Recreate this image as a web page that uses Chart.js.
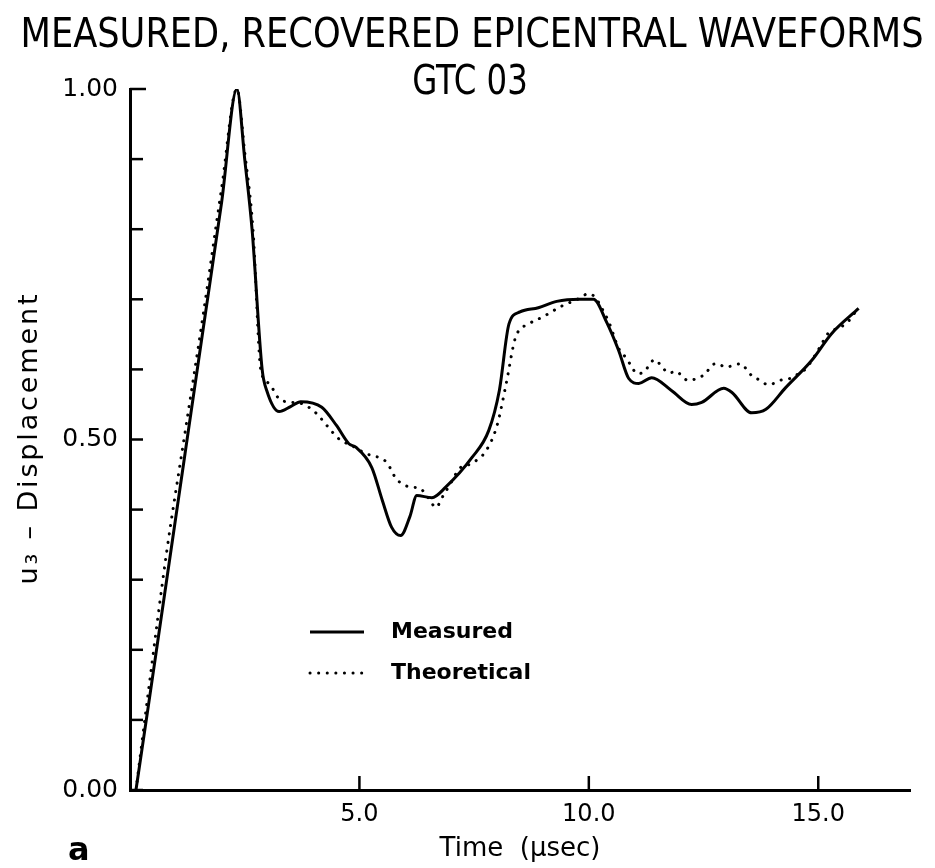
<!DOCTYPE html>
<html><head><meta charset="utf-8">
<script src="https://cdn.jsdelivr.net/npm/chart.js@4.4.1/dist/chart.umd.min.js"></script>
<style>html,body{margin:0;padding:0;background:#fff;} #wrap{width:935px;height:868px;}</style>
</head><body><div id="wrap"><canvas id="c" width="935" height="868"></canvas></div>
<script>
const titleText = 'MEASURED, RECOVERED EPICENTRAL WAVEFORMS';
const subtitleText = 'GTC 03';
const panelLetter = 'a';
const xAxisTitle = 'Time  (\u03BCsec)';
const yAxisTitle = 'u\u2083 \u2013 Displacement';
const seriesNames = ['Measured', 'Theoretical'];
const xTickValues = [5, 10, 15];
const yLabelValues = [0, 0.5, 1];
const yTickValues = [0, 0.1, 0.2, 0.3, 0.4, 0.5, 0.6, 0.7, 0.8, 0.9, 1.0];

const measuredTime = [0.13,0.4,0.8,1.2,1.6,2.0,2.33,2.5,2.66,2.88,2.98,3.25,3.5,3.72,4.18,4.5,4.77,4.92,5.27,5.5,5.7,5.9,6.1,6.25,6.58,6.88,7.45,7.82,8.05,8.26,8.5,8.9,9.3,9.8,10.1,10.39,10.65,10.87,11.09,11.37,11.8,12.24,12.46,12.94,13.12,13.55,13.86,14.29,14.86,15.29,15.88];
const measuredU = [0,0.12,0.30,0.48,0.66,0.84,1.0,0.90,0.80,0.60,0.57,0.54,0.547,0.554,0.546,0.52,0.494,0.489,0.46,0.413,0.375,0.363,0.39,0.42,0.417,0.432,0.474,0.513,0.57,0.665,0.682,0.688,0.697,0.70,0.70,0.667,0.627,0.587,0.58,0.588,0.57,0.55,0.553,0.573,0.567,0.538,0.543,0.574,0.613,0.651,0.687];

const theoreticalTime = [0.13,0.4,0.8,1.2,1.6,2.0,2.33,2.5,2.68,2.85,3.03,3.25,3.53,3.75,4.05,4.29,4.55,4.84,5.14,5.47,5.6,5.8,5.93,6.12,6.3,6.51,6.67,6.8,7.02,7.17,7.45,7.76,8.0,8.2,8.4,8.7,9.0,9.4,9.75,10.0,10.15,10.26,10.44,10.65,10.83,10.94,11.05,11.22,11.33,11.44,11.59,11.74,11.92,12.05,12.2,12.37,12.55,12.66,12.81,12.98,13.12,13.31,13.44,13.55,13.75,13.9,14.03,14.2,14.38,14.55,14.73,15.03,15.21,15.51,15.69,15.86];
const theoreticalU = [0,0.14,0.34,0.51,0.68,0.86,1.0,0.91,0.80,0.60,0.58,0.558,0.553,0.551,0.538,0.52,0.501,0.491,0.48,0.473,0.467,0.444,0.437,0.432,0.431,0.416,0.403,0.417,0.441,0.458,0.466,0.484,0.52,0.58,0.645,0.665,0.675,0.69,0.70,0.708,0.702,0.69,0.667,0.63,0.615,0.603,0.594,0.597,0.608,0.614,0.604,0.595,0.597,0.588,0.584,0.588,0.594,0.605,0.608,0.603,0.605,0.608,0.6,0.591,0.584,0.578,0.58,0.585,0.587,0.593,0.601,0.631,0.651,0.661,0.671,0.687];

const FONT = '"DejaVu Sans", "Liberation Sans", sans-serif';
const NARROW = '"Liberation Sans Narrow", "DejaVu Sans Condensed", "DejaVu Sans", sans-serif';

const decor = {
  id: 'decor',
  afterDraw(chart) {
    const ctx = chart.ctx, xs = chart.scales.x, ys = chart.scales.y;
    ctx.save();
    ctx.strokeStyle = '#000'; ctx.fillStyle = '#000';
    ctx.lineWidth = 2.5; ctx.lineCap = 'butt';
    // inward tick marks
    yTickValues.forEach(v => {
      const py = ys.getPixelForValue(v);
      ctx.beginPath(); ctx.moveTo(xs.left, py); ctx.lineTo(xs.left + (v === 1 ? 16 : 13), py); ctx.stroke();
    });
    xTickValues.forEach(t => {
      const px = xs.getPixelForValue(t);
      ctx.beginPath(); ctx.moveTo(px, ys.bottom); ctx.lineTo(px, ys.bottom - 14); ctx.stroke();
    });
    // title + subtitle
    ctx.font = '40px ' + NARROW;
    ctx.textAlign = 'center'; ctx.textBaseline = 'middle';
    const tw = ctx.measureText(titleText).width;
    const r = Math.min(1, 903 / tw);
    ctx.fillText(titleText, 472, 37, tw * r);
    const sw = ctx.measureText(subtitleText).width;
    ctx.fillText(subtitleText, 470, 84, sw * r * 0.92);
    // y axis title (rotated)
    ctx.save();
    ctx.translate(30, (ys.top + ys.bottom) / 2);
    ctx.rotate(-Math.PI / 2);
    ctx.font = '27px ' + FONT;
    const yw = ctx.measureText(yAxisTitle).width;
    const n = [...yAxisTitle].length;
    const ls = Math.max(0, (290 - yw) / (n - 1));
    ctx.letterSpacing = ls.toFixed(2) + 'px';
    ctx.textAlign = 'center'; ctx.textBaseline = 'middle';
    ctx.fillText(yAxisTitle, ls / 2, 0);
    ctx.restore();
    // panel letter
    ctx.font = 'bold 32px ' + FONT;
    ctx.textAlign = 'left'; ctx.textBaseline = 'alphabetic';
    ctx.fillText(panelLetter, 68, 860);
    // legend
    const rows = [632, 673];
    chart.data.datasets.forEach((ds, i) => {
      const y = rows[i];
      ctx.save();
      ctx.lineWidth = ds.borderWidth; ctx.lineCap = ds.borderCapStyle || 'butt';
      ctx.setLineDash(ds.borderDash || []);
      ctx.beginPath(); ctx.moveTo(310, y); ctx.lineTo(364, y); ctx.stroke();
      ctx.restore();
      ctx.font = 'bold 22px ' + FONT;
      ctx.textAlign = 'left'; ctx.textBaseline = 'middle';
      ctx.fillText(ds.label, 391, y);
    });
    ctx.restore();
  }
};

new Chart(document.getElementById('c'), {
  type: 'line',
  data: {
    datasets: [
      { label: seriesNames[0], data: measuredTime.map((t, i) => ({ x: t, y: measuredU[i] })),
        borderColor: '#000', borderWidth: 3, pointRadius: 0, cubicInterpolationMode: 'monotone', fill: false },
      { label: seriesNames[1], data: theoreticalTime.map((t, i) => ({ x: t, y: theoreticalU[i] })),
        borderColor: '#000', borderWidth: 3, borderDash: [0.1, 8.5], borderCapStyle: 'round',
        pointRadius: 0, cubicInterpolationMode: 'monotone', fill: false }
    ]
  },
  options: {
    responsive: false, animation: false, events: [],
    layout: { padding: { top: 89, right: 25, left: 0, bottom: 0 } },
    plugins: { legend: { display: false }, tooltip: { enabled: false }, title: { display: false } },
    scales: {
      x: {
        type: 'linear', min: 0, max: 17,
        afterFit(s) { s.height = 78; },
        afterBuildTicks(s) { s.ticks = xTickValues.map(v => ({ value: v })); },
        grid: { display: false, drawTicks: false },
        border: { display: true, color: '#000', width: 3 },
        ticks: { color: '#000', font: { family: FONT, size: 24 }, padding: 10, maxRotation: 0, autoSkip: false,
                 callback: v => Number(v).toFixed(1) },
        title: { display: true, text: xAxisTitle, color: '#000', font: { family: FONT, size: 26 }, padding: { top: 0, bottom: 3 } }
      },
      y: {
        type: 'linear', min: 0, max: 1,
        afterFit(s) { s.width = 130; },
        afterBuildTicks(s) { s.ticks = yLabelValues.map(v => ({ value: v })); },
        grid: { display: false, drawTicks: false },
        border: { display: true, color: '#000', width: 3 },
        ticks: { color: '#000', font: { family: FONT, size: 25 }, padding: 12, autoSkip: false,
                 callback: v => Number(v).toFixed(2) },
        title: { display: false, text: yAxisTitle }
      }
    }
  },
  plugins: [decor]
});
</script>
</body></html>
